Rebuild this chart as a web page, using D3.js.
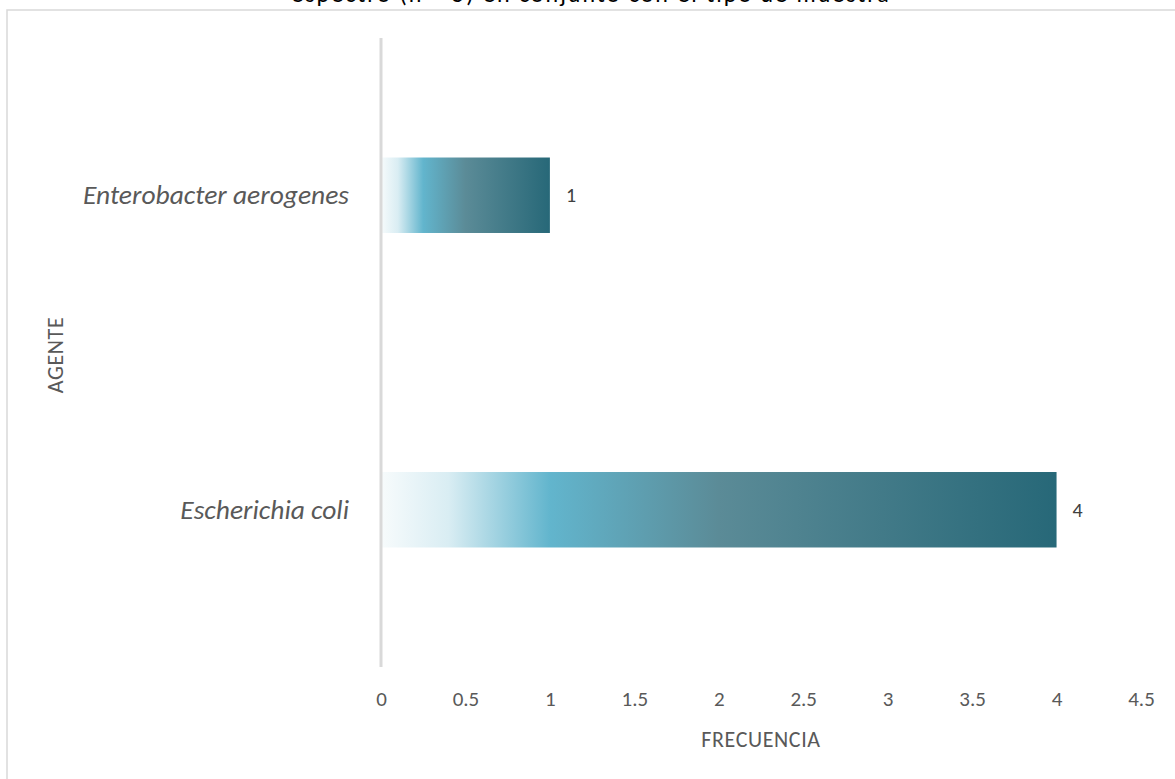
<!DOCTYPE html>
<html>
<head>
<meta charset="utf-8">
<script src="https://cdn.jsdelivr.net/npm/d3@7"></script>
<style>
  html, body { margin: 0; padding: 0; background: #ffffff; }
  svg { display: block; }
  svg text { font-family: Carlito, Calibri, Lato, "Open Sans", sans-serif; }
</style>
</head>
<body>
<svg id="chart" width="1175" height="779"></svg>
<script>
// Agents and their frequencies
const categories = ["Enterobacter aerogenes", "Escherichia coli"];
const frequencies = [1, 4];
const xTicks = [0, 0.5, 1, 1.5, 2, 2.5, 3, 3.5, 4, 4.5];
const titleText = "espectro (n = 5) en conjunto con el tipo de muestra";
const xTitle = "FRECUENCIA";
const yTitle = "AGENTE";

const svg = d3.select("#chart");

// Chart frame
svg.append("rect")
  .attr("x", 7).attr("y", 10)
  .attr("width", 1180).attr("height", 800)
  .attr("fill", "#ffffff")
  .attr("stroke", "#d9d9d9").attr("stroke-width", 1.5);

// Title, second line (sits against the top edge of the page)
svg.append("text")
  .attr("x", 591).attr("y", 1.5)
  .attr("text-anchor", "middle")
  .attr("font-size", 24)
  .attr("letter-spacing", 2)
  .attr("fill", "#000000")
  .text(titleText);

const x = d3.scaleLinear().domain([0, 4.5]).range([381, 1141]);
const y = d3.scaleBand().domain(categories).range([38, 667])
  .paddingInner(0.76).paddingOuter(0.38);

// Horizontal gradient used by each bar
const defs = svg.append("defs");
const grad = defs.append("linearGradient")
  .attr("id", "barGrad")
  .attr("x1", "0%").attr("y1", "0%").attr("x2", "100%").attr("y2", "0%");
[
  [0, "#f7fbfc"],
  [0.1, "#d9edf3"],
  [0.25, "#62b5cd"],
  [0.5, "#5b8b97"],
  [1, "#276878"]
].forEach(([o, c]) => grad.append("stop").attr("offset", o).attr("stop-color", c));

// Bars
svg.append("g").selectAll("rect")
  .data(categories)
  .join("rect")
  .attr("x", x(0))
  .attr("y", d => y(d))
  .attr("width", (d, i) => x(frequencies[i]) - x(0))
  .attr("height", y.bandwidth())
  .attr("fill", "url(#barGrad)");

// Value labels
svg.append("g").selectAll("text")
  .data(categories)
  .join("text")
  .attr("x", (d, i) => x(frequencies[i]) + 16)
  .attr("y", d => y(d) + y.bandwidth() / 2)
  .attr("dy", "0.35em")
  .attr("font-size", 20)
  .attr("fill", "#404040")
  .text((d, i) => frequencies[i]);

// Vertical axis line
svg.append("line")
  .attr("x1", x(0)).attr("x2", x(0))
  .attr("y1", 38).attr("y2", 667)
  .attr("stroke", "#d9d9d9").attr("stroke-width", 3);

// X axis tick labels (no domain or tick marks)
const xAxis = svg.append("g")
  .attr("transform", "translate(0,691)")
  .call(d3.axisBottom(x).tickValues(xTicks).tickSize(0).tickPadding(0)
    .tickFormat(d => String(d)));
xAxis.attr("font-family", null).attr("font-size", null);
xAxis.select(".domain").remove();
xAxis.selectAll("text")
  .attr("font-size", 21)
  .attr("fill", "#595959");

// Y axis category labels
const yAxis = svg.append("g")
  .attr("transform", "translate(349,0)")
  .call(d3.axisLeft(y).tickSize(0).tickPadding(0));
yAxis.attr("font-family", null).attr("font-size", null);
yAxis.select(".domain").remove();
yAxis.selectAll("text")
  .attr("font-size", 27.5)
  .attr("font-style", "italic")
  .attr("fill", "#595959");

// Axis titles
svg.append("text")
  .attr("x", 761).attr("y", 747)
  .attr("text-anchor", "middle")
  .attr("font-size", 22)
  .attr("letter-spacing", 0.6)
  .attr("fill", "#595959")
  .text(xTitle);

svg.append("text")
  .attr("transform", "translate(63,355) rotate(-90)")
  .attr("text-anchor", "middle")
  .attr("font-size", 22)
  .attr("letter-spacing", 0.6)
  .attr("fill", "#595959")
  .text(yTitle);
</script>
</body>
</html>
